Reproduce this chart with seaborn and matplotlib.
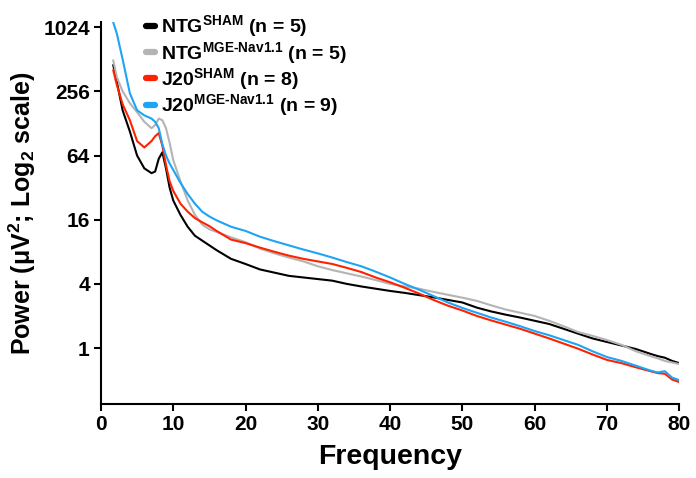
import numpy as np
import pandas as pd
import matplotlib
matplotlib.use("Agg")
import matplotlib.pyplot as plt
import seaborn as sns

# Frequency grid (Hz)
freq = [1.7, 2.2, 3, 4, 5, 6, 7, 7.5, 8, 8.5, 9, 9.5, 10, 11, 12, 13, 14, 15, 16,
        18, 20, 22, 24, 26, 28, 30, 32, 34, 36, 38, 40, 42, 44, 46, 48, 50, 52, 54,
        56, 58, 60, 62, 64, 66, 68, 70, 72, 74, 76, 77, 78, 79, 80]

# Power in log2(uV^2) units
ntg_sham = [8.82, 8.3, 7.41, 6.75, 6.0, 5.6, 5.45, 5.5, 5.9, 6.1, 5.6, 5.0, 4.6, 4.15,
            3.78, 3.5, 3.35, 3.2, 3.05, 2.78, 2.62, 2.45, 2.35, 2.25, 2.2, 2.15, 2.1,
            2.0, 1.92, 1.85, 1.78, 1.72, 1.65, 1.58, 1.5, 1.42, 1.26, 1.14, 1.04, 0.95,
            0.85, 0.75, 0.6, 0.45, 0.3, 0.19, 0.08, -0.03, -0.18, -0.25, -0.3, -0.4, -0.47]
ntg_mge = [8.97, 8.44, 8.0, 7.63, 7.35, 7.05, 6.85, 6.95, 7.15, 7.1, 6.85, 6.4, 5.86,
           5.2, 4.6, 4.15, 3.85, 3.7, 3.62, 3.45, 3.3, 3.1, 2.95, 2.82, 2.7, 2.55, 2.43,
           2.33, 2.23, 2.12, 2.0, 1.92, 1.85, 1.75, 1.66, 1.57, 1.47, 1.33, 1.2, 1.1,
           1.0, 0.85, 0.68, 0.5, 0.38, 0.25, 0.1, -0.1, -0.25, -0.32, -0.4, -0.45, -0.5]
j20_sham = [8.66, 8.2, 7.6, 7.1, 6.45, 6.25, 6.45, 6.6, 6.7, 6.3, 5.7, 5.2, 4.9, 4.5,
            4.25, 4.05, 3.92, 3.8, 3.65, 3.38, 3.27, 3.13, 3.0, 2.88, 2.78, 2.7, 2.62,
            2.5, 2.37, 2.2, 2.05, 1.88, 1.7, 1.5, 1.32, 1.17, 1.0, 0.86, 0.73, 0.6,
            0.45, 0.3, 0.14, -0.02, -0.2, -0.37, -0.47, -0.6, -0.72, -0.78, -0.8, -0.98, -1.06]
j20_mge = [10.15, 9.8, 9.0, 7.94, 7.41, 7.25, 7.15, 7.05, 6.85, 6.35, 6.0, 5.75, 5.55,
           5.15, 4.8, 4.5, 4.25, 4.1, 3.98, 3.78, 3.65, 3.47, 3.33, 3.2, 3.07, 2.95,
           2.82, 2.68, 2.55, 2.38, 2.2, 2.0, 1.82, 1.62, 1.42, 1.25, 1.1, 0.95, 0.82,
           0.68, 0.53, 0.4, 0.25, 0.1, -0.1, -0.28, -0.4, -0.55, -0.7, -0.76, -0.72, -0.92, -1.0]

groups = [r"NTG$^{SHAM}$ (n = 5)",
          r"NTG$^{MGE\text{-}Nav1.1}$ (n = 5)",
          r"J20$^{SHAM}$ (n = 8)",
          r"J20$^{MGE\text{-}Nav1.1}$ (n = 9)"]
colors = ["#000000", "#b4b4b4", "#ff2200", "#1ea4f5"]

y_ticks = [0, 2, 4, 6, 8, 10]
y_ticklabels = ["1", "4", "16", "64", "256", "1024"]
x_ticks = [0, 10, 20, 30, 40, 50, 60, 70, 80]

df = pd.concat([
    pd.DataFrame({"Frequency": freq, "Power": vals, "Group": g})
    for g, vals in zip(groups, [ntg_sham, ntg_mge, j20_sham, j20_mge])
], ignore_index=True)

sns.set_style("ticks")
plt.rcParams["font.family"] = ["Liberation Sans", "DejaVu Sans"]
plt.rcParams["font.weight"] = "bold"
plt.rcParams["text.color"] = "black"
plt.rcParams["axes.labelcolor"] = "black"
plt.rcParams["mathtext.fontset"] = "custom"
plt.rcParams["mathtext.default"] = "bf"
plt.rcParams["mathtext.bf"] = "Liberation Sans:bold"
plt.rcParams["mathtext.rm"] = "Liberation Sans:bold"
plt.rcParams["mathtext.it"] = "Liberation Sans:bold"

fig = plt.figure(figsize=(6.96, 4.78), dpi=100)
ax = fig.add_axes([0.145, 0.155, 0.831, 0.799])

sns.lineplot(data=df, x="Frequency", y="Power", hue="Group", hue_order=groups,
             palette=colors, linewidth=1.5, estimator=None, ax=ax)

ax.set_xlim(0, 80)
ax.set_ylim(-1.74, 10.16)
ax.set_xticks(x_ticks)
ax.set_yticks(y_ticks)
ax.set_yticklabels(y_ticklabels)
for lab in ax.get_xticklabels() + ax.get_yticklabels():
    lab.set_fontweight("bold")
    lab.set_fontsize(15)
ax.tick_params(axis="both", direction="out", length=5, width=1.5, colors="black", pad=3)
for s in ["top", "right"]:
    ax.spines[s].set_visible(False)
for s in ["left", "bottom"]:
    ax.spines[s].set_linewidth(1.5)
    ax.spines[s].set_color("black")

ax.set_xlabel("Frequency", fontsize=20.5, fontweight="bold", labelpad=7, color="black")
ax.set_ylabel(r"Power ($\mathrm{\mu}$V$^2$; Log$_2$ scale)", fontsize=18,
              fontweight="bold", labelpad=4, color="black")

leg = ax.legend(loc="upper left", bbox_to_anchor=(0.047, 1.068), frameon=False,
                handlelength=0.5, handletextpad=0.3, labelspacing=0.02,
                prop={"weight": "bold", "size": 14})
for h in leg.get_lines():
    h.set_linewidth(4.5)
    h.set_solid_capstyle("round")

fig.savefig("out.png", dpi=100)
